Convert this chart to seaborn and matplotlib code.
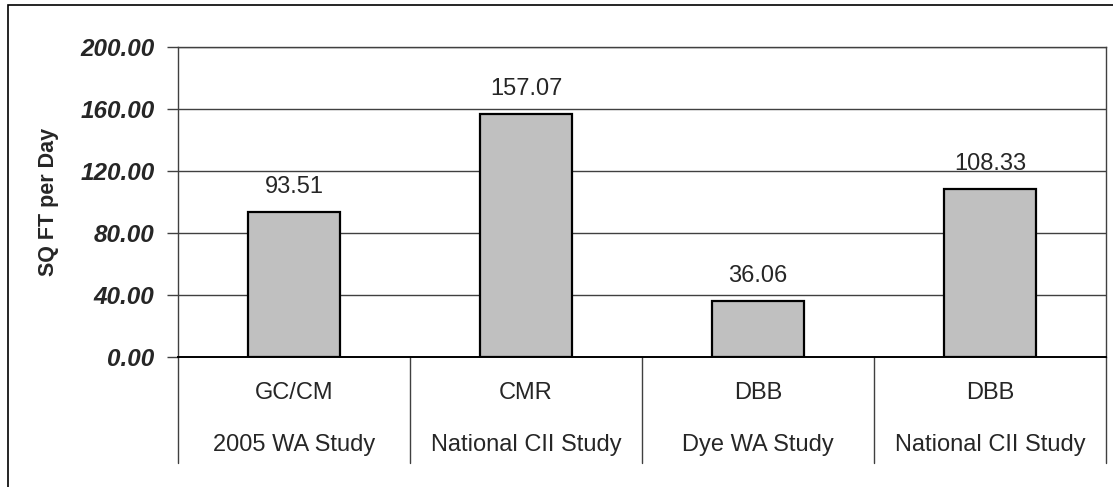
import pandas as pd
import numpy as np
import matplotlib
matplotlib.use('Agg')
import matplotlib.pyplot as plt
import matplotlib.transforms as mtransforms
from matplotlib.patches import Rectangle
import seaborn as sns

# Данные
methods = ['GC/CM', 'CMR', 'DBB', 'DBB']
studies = ['2005 WA Study', 'National CII Study', 'Dye WA Study', 'National CII Study']
sqft_per_day = [93.51, 157.07, 36.06, 108.33]
yticks = [0, 40, 80, 120, 160, 200]

df = pd.DataFrame({'key': [f'{m}\n{s}' for m, s in zip(methods, studies)],
                   'value': sqft_per_day})

sns.set_style('white')
plt.rcParams['font.family'] = ['Liberation Sans', 'DejaVu Sans']

fig = plt.figure(figsize=(11.13, 4.87), dpi=100)
ax = fig.add_axes([178 / 1113, 1 - 357 / 487, 928 / 1113, 310 / 487])

# Рамка вокруг всей диаграммы
fig.patches.append(Rectangle((8 / 1113, -0.2), 1.2, 1.2 - 5 / 487,
                             transform=fig.transFigure, fill=False,
                             edgecolor='black', lw=1.2))

sns.barplot(data=df, x='key', y='value', ax=ax, color='#C0C0C0',
            edgecolor='black', linewidth=1.6, width=0.4, saturation=1)

ax.set_ylim(0, 200)
ax.set_xlim(-0.5, 3.5)
ax.set_yticks(yticks)
ax.set_yticklabels([f'{v:.2f}' for v in yticks], fontsize=17.5,
                   fontweight='bold', fontstyle='italic')
ax.tick_params(axis='y', length=8, width=1, color='#404040', pad=9, left=True)
ax.set_xticks([])
ax.set_xlabel('')
ax.set_ylabel('SQ FT per Day', fontsize=15.5, fontweight='bold')
ax.yaxis.set_label_coords(-0.128, 0.5)

for v in yticks[1:]:
    ax.axhline(v, color='#404040', lw=1, zorder=0)
for side in ['top', 'bottom', 'left', 'right']:
    ax.spines[side].set_visible(True)
    ax.spines[side].set_color('#404040')
    ax.spines[side].set_linewidth(1)
ax.spines['bottom'].set_color('black')
ax.spines['bottom'].set_linewidth(1.4)

# Подписи значений
for i, v in enumerate(sqft_per_day):
    ax.annotate(f'{v:.2f}', (i, v), xytext=(0, 10), textcoords='offset points',
                ha='center', va='bottom', fontsize=17)

# Таблица категорий под осью
trans = mtransforms.blended_transform_factory(ax.transData, ax.transAxes)
for b in np.arange(-0.5, len(methods)):
    ax.plot([b, b], [0, -0.342], transform=trans, color='#404040', lw=1,
            clip_on=False)
for i, (m, s) in enumerate(zip(methods, studies)):
    ax.text(i, -0.116, m, transform=trans, ha='center', va='center', fontsize=17)
    ax.text(i, -0.284, s, transform=trans, ha='center', va='center', fontsize=17)

plt.savefig('out.png', dpi=100)
plt.close()
